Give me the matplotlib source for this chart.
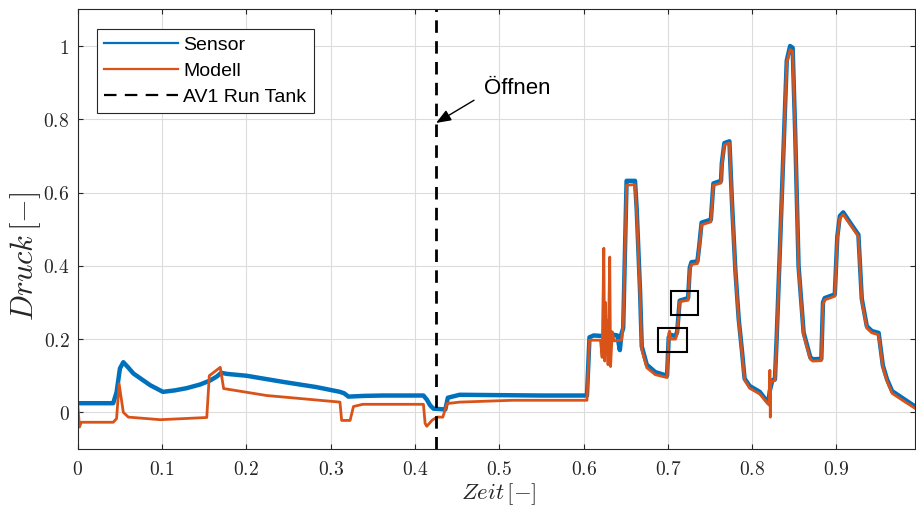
import numpy as np
import matplotlib
matplotlib.use("Agg")
import matplotlib.pyplot as plt
from matplotlib.lines import Line2D
from matplotlib.patches import Rectangle

# Sensor-Messung (Zeit, Druck), normiert
sensor_t = [0.000, 0.042, 0.046, 0.050, 0.054, 0.060, 0.066, 0.076, 0.086, 0.101,
            0.115, 0.129, 0.145, 0.157, 0.165, 0.170, 0.177, 0.200, 0.244, 0.283,
            0.311, 0.316, 0.321, 0.340, 0.362, 0.410, 0.414, 0.418, 0.422, 0.436,
            0.439, 0.453, 0.500, 0.550, 0.604, 0.607, 0.612, 0.625, 0.635, 0.640,
            0.643, 0.645, 0.647, 0.651, 0.661, 0.663, 0.667, 0.669, 0.675, 0.685,
            0.699, 0.701, 0.703, 0.709, 0.711, 0.714, 0.724, 0.726, 0.728, 0.735,
            0.737, 0.740, 0.751, 0.752, 0.754, 0.763, 0.764, 0.767, 0.773, 0.776,
            0.780, 0.784, 0.788, 0.791, 0.797, 0.809, 0.819, 0.821, 0.824, 0.827,
            0.829, 0.835, 0.841, 0.845, 0.848, 0.851, 0.855, 0.861, 0.869, 0.872,
            0.882, 0.884, 0.886, 0.898, 0.901, 0.904, 0.908, 0.917, 0.926, 0.930,
            0.936, 0.942, 0.950, 0.955, 0.960, 0.966, 0.979, 0.994]
sensor_p = [0.025, 0.025, 0.055, 0.120, 0.137, 0.122, 0.106, 0.090, 0.074, 0.056,
            0.060, 0.066, 0.076, 0.087, 0.098, 0.108, 0.105, 0.100, 0.083, 0.069,
            0.056, 0.052, 0.043, 0.045, 0.046, 0.046, 0.035, 0.019, 0.010, 0.008,
            0.040, 0.048, 0.047, 0.046, 0.046, 0.205, 0.210, 0.208, 0.212, 0.210,
            0.170, 0.215, 0.230, 0.632, 0.632, 0.555, 0.330, 0.180, 0.130, 0.110,
            0.100, 0.205, 0.212, 0.208, 0.220, 0.305, 0.312, 0.395, 0.410, 0.412,
            0.450, 0.518, 0.526, 0.560, 0.625, 0.632, 0.680, 0.735, 0.740, 0.575,
            0.390, 0.255, 0.165, 0.092, 0.072, 0.056, 0.026, 0.060, 0.088, 0.090,
            0.200, 0.580, 0.960, 1.000, 0.995, 0.765, 0.400, 0.218, 0.150, 0.145,
            0.146, 0.300, 0.312, 0.322, 0.480, 0.536, 0.546, 0.515, 0.485, 0.310,
            0.235, 0.222, 0.217, 0.128, 0.090, 0.058, 0.038, 0.015]

# Modell-Simulation
modell_t = [0.000, 0.002, 0.004, 0.042, 0.046, 0.049, 0.054, 0.060, 0.098, 0.153,
            0.156, 0.169, 0.173, 0.224, 0.311, 0.313, 0.323, 0.327, 0.338, 0.410,
            0.412, 0.414, 0.420, 0.426, 0.433, 0.438, 0.453, 0.516, 0.604, 0.607,
            0.620, 0.622, 0.624, 0.625, 0.626, 0.627, 0.628, 0.629, 0.631, 0.632,
            0.634, 0.636, 0.645, 0.647, 0.651, 0.661, 0.663, 0.667, 0.669, 0.675,
            0.685, 0.699, 0.701, 0.702, 0.703, 0.709, 0.711, 0.714, 0.724, 0.726,
            0.728, 0.735, 0.737, 0.740, 0.751, 0.752, 0.754, 0.763, 0.764, 0.767,
            0.773, 0.776, 0.780, 0.784, 0.788, 0.791, 0.797, 0.809, 0.820, 0.821,
            0.8215, 0.822, 0.824, 0.827, 0.829, 0.835, 0.841, 0.845, 0.848, 0.851,
            0.855, 0.861, 0.869, 0.872, 0.882, 0.884, 0.886, 0.898, 0.901, 0.904,
            0.908, 0.917, 0.926, 0.930, 0.936, 0.942, 0.950, 0.955, 0.960, 0.966,
            0.979, 0.994]
modell_p = [0.019, -0.040, -0.027, -0.027, -0.017, 0.078, 0.000, -0.013, -0.020, -0.014,
            0.100, 0.123, 0.065, 0.046, 0.028, -0.022, -0.022, 0.016, 0.022, 0.022,
            -0.030, -0.038, -0.022, -0.013, -0.013, 0.024, 0.028, 0.033, 0.033, 0.197,
            0.197, 0.150, 0.448, 0.140, 0.300, 0.160, 0.250, 0.130, 0.424, 0.125,
            0.220, 0.195, 0.197, 0.240, 0.620, 0.622, 0.545, 0.320, 0.172, 0.122,
            0.103, 0.095, 0.215, 0.222, 0.200, 0.200, 0.215, 0.302, 0.306, 0.390,
            0.404, 0.406, 0.445, 0.512, 0.520, 0.555, 0.620, 0.626, 0.675, 0.730,
            0.735, 0.570, 0.385, 0.250, 0.160, 0.088, 0.066, 0.050, 0.020, 0.115,
            -0.013, 0.080, 0.085, 0.087, 0.195, 0.575, 0.955, 0.990, 0.985, 0.760,
            0.395, 0.212, 0.145, 0.140, 0.141, 0.295, 0.307, 0.317, 0.475, 0.530,
            0.540, 0.510, 0.480, 0.305, 0.230, 0.217, 0.212, 0.123, 0.085, 0.052,
            0.032, 0.010]

t_open = 0.425
xticks = [0, 0.1, 0.2, 0.3, 0.4, 0.5, 0.6, 0.7, 0.8, 0.9]
yticks = [0, 0.2, 0.4, 0.6, 0.8, 1]
# markierte Bereiche (t0, t1, p0, p1)
boxes = [(0.6885, 0.7222, 0.165, 0.230), (0.7033, 0.7360, 0.267, 0.3325)]

plt.rcParams['mathtext.fontset'] = 'cm'
plt.rcParams['lines.scale_dashes'] = False
axcol = '#262626'
c_sensor = '#0072BD'
c_modell = '#D95319'

fig = plt.figure(figsize=(9.16, 5.08), dpi=100)
ax = fig.add_axes([77.8/916, 59/508, 837.5/916, 439.6/508])

ax.plot(sensor_t, sensor_p, color=c_sensor, linewidth=3.2)
ax.plot(modell_t, modell_p, color=c_modell, linewidth=2.0)
ax.axvline(t_open, color='black', linewidth=2.0, dashes=(9, 6))

for t0, t1, p0, p1 in boxes:
    ax.add_patch(Rectangle((t0, p0), t1 - t0, p1 - p0, fill=False,
                           edgecolor='black', linewidth=1.5, zorder=5))

ax.annotate('', xy=(t_open, 0.79), xytext=(0.470, 0.852),
            arrowprops=dict(arrowstyle='-|>,head_length=0.9,head_width=0.35',
                            color='black', lw=1.0, shrinkA=0, shrinkB=0))
ax.text(0.482, 0.885, 'Öffnen', fontsize=16, family='Liberation Sans',
        ha='left', va='center')

ax.set_xlim(0, 0.9935)
ax.set_ylim(-0.1, 1.1)
ax.set_xticks(xticks)
ax.set_xticklabels(['$%g$' % v for v in xticks], fontsize=14, color=axcol)
ax.set_yticks(yticks)
ax.set_yticklabels(['$%g$' % v for v in yticks], fontsize=14, color=axcol)
ax.tick_params(direction='in', length=3.6, width=0.8, color=axcol,
               top=True, right=True)
ax.tick_params(axis='x', pad=8)
ax.tick_params(axis='y', pad=6)
for s in ax.spines.values():
    s.set_color(axcol)
    s.set_linewidth(0.8)
ax.grid(True, color='#dcdcdc', linewidth=0.8)
ax.set_axisbelow(True)

ax.set_xlabel(r'$Zeit\,[-]$', fontsize=16.5, color=axcol)
ax.set_ylabel(r'$Druck\,[-]$', fontsize=22, color=axcol)
ax.xaxis.set_label_coords(0.5026, -0.074)
ax.yaxis.set_label_coords(-0.042, 0.437)

handles = [Line2D([], [], color=c_sensor, linewidth=1.6),
           Line2D([], [], color=c_modell, linewidth=1.6),
           Line2D([], [], color='black', linewidth=1.6, dashes=(9, 6))]
leg = ax.legend(handles, ['Sensor', 'Modell', 'AV1 Run Tank'],
                loc='upper left', bbox_to_anchor=(97/916, 1 - 29.3/508),
                bbox_transform=fig.transFigure, borderaxespad=0,
                prop={'family': 'Liberation Sans', 'size': 14},
                fancybox=False, framealpha=1, edgecolor=axcol,
                handlelength=3.8, handletextpad=0.25, labelspacing=0.42,
                borderpad=0.38)
leg.get_frame().set_linewidth(0.8)

fig.savefig('out.png', dpi=100)
